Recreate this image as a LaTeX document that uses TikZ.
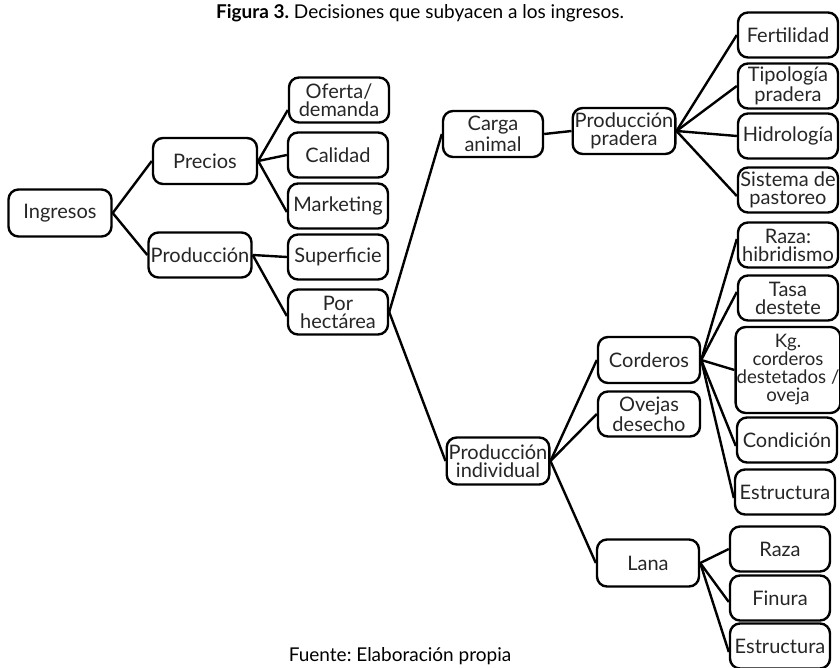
\documentclass[tikz,border=0pt]{standalone}
\usepackage{fontspec}
\setmainfont{Lato}
\frenchspacing
\begin{document}
\begin{tikzpicture}[x=0.5pt,y=-0.5pt,
  box/.style={draw=black, line width=1.2pt, rounded corners=5pt, align=center,
    minimum width=50pt, minimum height=22.5pt, inner sep=1pt,
    font=\fontsize{10}{9}\selectfont, text=black!85},
  conn/.style={line width=1.2pt, black}]
\useasboundingbox (0,0) rectangle (840,668);
\node[font=\fontsize{9.5}{11}\selectfont] (title) at (420,13) {\textbf{Figura 3.} Decisiones que subyacen a los ingresos.};
\node[font=\fontsize{9.5}{11}\selectfont] (fuente) at (400,656) {Fuente: Elaboración propia};
% level 0-2 left
\node[box, minimum width=51.5pt, minimum height=23.5pt] (ing) at (60,213) {Ingresos};
\node[box, minimum width=52pt, minimum height=23pt] (pre) at (205,161) {Precios};
\node[box, minimum width=51.5pt, minimum height=22.5pt] (prod) at (200,255) {Producción};
\node[box] (ofe) at (339,100) {Oferta/\\demanda};
\node[box] (cal) at (338,155) {Calidad};
\node[box] (mar) at (338,206) {Marketing};
\node[box] (sup) at (338,257) {Superficie};
\node[box] (hec) at (338,312) {Por\\hectárea};
% upper right
\node[box, minimum height=23pt] (car) at (493,134) {Carga\\animal};
\node[box, minimum width=51pt, minimum height=23pt] (ppr) at (624,131) {Producción\\pradera};
\node[box] (fer) at (788,35) {Fertilidad};
\node[box] (tip) at (788,86) {Tipología\\pradera};
\node[box] (hid) at (788,136) {Hidrología};
\node[box] (sis) at (788,190) {Sistema de\\pastoreo};
% lower right
\node[box, minimum width=51pt, minimum height=23.5pt] (pin) at (498,461) {Producción\\individual};
\node[box, minimum width=51pt, minimum height=23pt] (cor) at (649,360) {Corderos};
\node[box, minimum width=51pt, minimum height=22.5pt] (ove) at (649,414) {Ovejas\\desecho};
\node[box, minimum width=51pt, minimum height=23.5pt] (lan) at (648,563) {Lana};
\node[box] (rhi) at (788,245) {Raza:\\hibridismo};
\node[box] (tas) at (788,298) {Tasa\\destete};
\node[box, minimum height=43pt, inner sep=0.5pt, font=\fontsize{9.3}{9}\selectfont] (kg) at (788,370) {Kg.\\corderos\\destetados /\\oveja};
\node[box] (con) at (787,440) {Condición};
\node[box] (es1) at (785,492) {Estructura};
\node[box] (raz) at (780,549) {Raza};
\node[box] (fin) at (780,598) {Finura};
\node[box] (es2) at (780,646) {Estructura};
% connectors
\draw[conn] (ing.east) -- (pre.west);
\draw[conn] (ing.east) -- (prod.west);
\draw[conn] (pre.east) -- ([yshift=-5pt]ofe.west);
\draw[conn] (pre.east) -- (cal.west);
\draw[conn] (pre.east) -- ([yshift=-3pt]mar.west);
\draw[conn] (prod.east) -- (sup.west);
\draw[conn] (prod.east) -- ([yshift=-2pt]hec.west);
\draw[conn] (hec.east) -- (car.west);
\draw[conn] (hec.east) -- (pin.west);
\draw[conn] (car.east) -- (ppr.west);
\draw[conn] (ppr.east) -- (fer.west);
\draw[conn] (ppr.east) -- (tip.west);
\draw[conn] (ppr.east) -- (hid.west);
\draw[conn] (ppr.east) -- ([yshift=-3pt]sis.west);
\draw[conn] (pin.east) -- (cor.west);
\draw[conn] (pin.east) -- (ove.west);
\draw[conn] (pin.east) -- (lan.west);
\draw[conn] (cor.east) -- ([yshift=3pt]rhi.west);
\draw[conn] (cor.east) -- ([yshift=3pt]tas.west);
\draw[conn] (cor.east) -- (kg.west);
\draw[conn] (cor.east) -- ([yshift=-3pt]con.west);
\draw[conn] (cor.east) -- ([yshift=-3pt]es1.west);
\draw[conn] (lan.east) -- (raz.west);
\draw[conn] (lan.east) -- ([yshift=-2pt]fin.west);
\draw[conn] (lan.east) -- ([yshift=-3pt]es2.west);
\end{tikzpicture}
\end{document}
